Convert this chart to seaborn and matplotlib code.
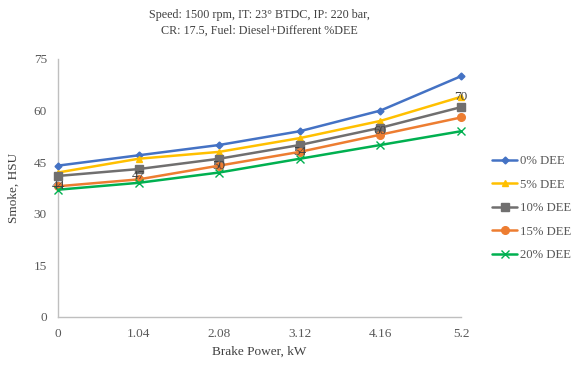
import pandas as pd
import matplotlib.pyplot as plt
import seaborn as sns

brake_power = [0, 1.04, 2.08, 3.12, 4.16, 5.2]
power_labels = ['0', '1.04', '2.08', '3.12', '4.16', '5.2']
dee_0 = [44, 47, 50, 54, 60, 70]
dee_5 = [42, 46, 48, 52, 57, 64]
dee_10 = [41, 43, 46, 50, 55, 61]
dee_15 = [38, 40, 44, 48, 53, 58]
dee_20 = [37, 39, 42, 46, 50, 54]
series_names = ['0% DEE', '5% DEE', '10% DEE', '15% DEE', '20% DEE']

colors = {'0% DEE': '#4472C4', '5% DEE': '#FFC000', '10% DEE': '#706F6F',
          '15% DEE': '#ED7D31', '20% DEE': '#00B050'}
markers = {'0% DEE': 'D', '5% DEE': '^', '10% DEE': 's',
           '15% DEE': 'o', '20% DEE': 'x'}
msizes = {'0% DEE': 3.5, '5% DEE': 4.5, '10% DEE': 5.5, '15% DEE': 5.5, '20% DEE': 5.5}

frames = []
for name, vals in zip(series_names, [dee_0, dee_5, dee_10, dee_15, dee_20]):
    frames.append(pd.DataFrame({'Brake Power': brake_power, 'Smoke': vals, 'Fuel': name}))
df = pd.concat(frames, ignore_index=True)

sns.set_style('white')
plt.rcParams['font.family'] = ['Liberation Serif', 'DejaVu Serif']

fig = plt.figure(figsize=(5.85, 3.75), dpi=100)
ax = fig.add_axes([0.0991, 0.1547, 0.689, 0.688])

for name in series_names:
    sub = df[df['Fuel'] == name]
    sns.lineplot(data=sub, x='Brake Power', y='Smoke', ax=ax, color=colors[name],
                 marker=markers[name], markersize=msizes[name], linewidth=1.8,
                 markeredgecolor=colors[name], markeredgewidth=1,
                 label=name, clip_on=False, zorder=3)

# data labels of the 0% series, drawn below the points like in the original
for xv, yv in zip(brake_power, dee_0):
    ax.annotate(str(yv), (xv, yv), xytext=(0, -15), textcoords='offset points',
                ha='center', va='center', fontsize=9.5, color='#404040', zorder=5)

ax.set_xlim(0, 5.2)
ax.set_ylim(0, 75)
ax.set_xticks(brake_power)
ax.set_xticklabels(power_labels)
ax.set_yticks([0, 15, 30, 45, 60, 75])
ax.tick_params(axis='both', length=0, labelsize=9.5, labelcolor='#595959', pad=8)
for side in ['top', 'right']:
    ax.spines[side].set_visible(False)
for side in ['left', 'bottom']:
    ax.spines[side].set_color('#BFBFBF')
    ax.spines[side].set_linewidth(1)

ax.set_xlabel('Brake Power, kW', fontsize=9.5, color='#404040', labelpad=4)
ax.set_ylabel('Smoke, HSU', fontsize=9.5, color='#404040', labelpad=10)
# title is centred over the plot area, not the whole figure
ax.text(0.5, 1.0 + 50 / 258, 'Speed: 1500 rpm, IT: 23° BTDC, IP: 220 bar,\nCR: 17.5, Fuel: Diesel+Different %DEE',
        transform=ax.transAxes, ha='center', va='top', fontsize=8.7, color='#404040',
        linespacing=1.45)

ax.get_legend().remove()
handles, labels = ax.get_legend_handles_labels()
fig.legend(handles, labels, loc='center left', bbox_to_anchor=(0.822, 0.445),
           frameon=False, fontsize=9.2, labelcolor='#595959', handlelength=1.9,
           handletextpad=0.3, labelspacing=0.9)

fig.savefig('out.png', dpi=100)
